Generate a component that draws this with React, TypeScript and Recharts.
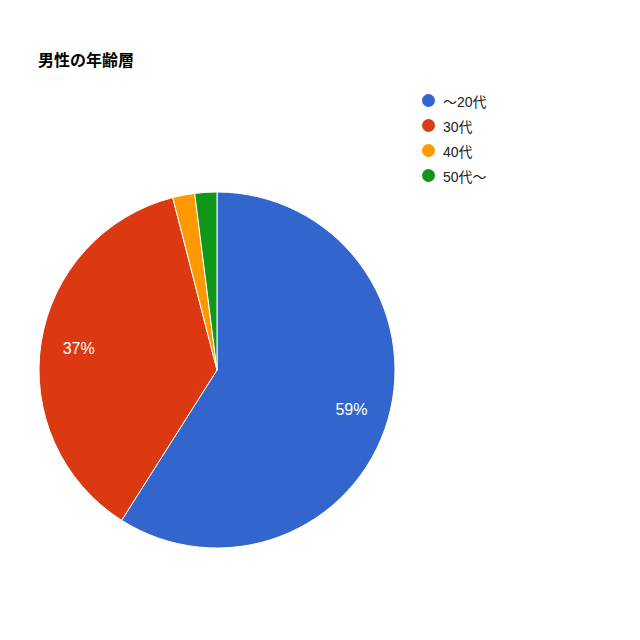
import React from "react";
import { PieChart, Pie, Cell } from "recharts";

const TITLE = "男性の年齢層";
const CATEGORIES = ["～20代", "30代", "40代", "50代～"];
const VALUES = [59, 37, 2, 2];
const COLORS = ["#3366cc", "#dc3912", "#ff9900", "#109618"];
const LABELS = ["59%", "37%", "", ""];

const FONT = '"Liberation Sans", Arial, "Noto Sans CJK JP", sans-serif';
const RAD = Math.PI / 180;

const data = CATEGORIES.map((name, i) => ({ name, value: VALUES[i], label: LABELS[i] }));

function renderLabel(props: any) {
  const { cx, cy, midAngle, index } = props;
  const text = data[index].label;
  if (!text) return null;
  const r = 140;
  const x = cx + r * Math.cos(-midAngle * RAD);
  const y = cy + r * Math.sin(-midAngle * RAD);
  return (
    <text
      x={x}
      y={y}
      fill="#ffffff"
      fontSize={16}
      fontFamily={FONT}
      textAnchor="middle"
      dominantBaseline="central"
    >
      {text}
    </text>
  );
}

// legend drawn beside the chart so it doesn't shift the pie
function LegendBox() {
  return (
    <div
      style={{
        position: "absolute",
        left: 422,
        top: 88,
        fontFamily: FONT,
        fontSize: 14,
        color: "#222",
      }}
    >
      {data.map((d, i) => (
        <div key={d.name} style={{ display: "flex", alignItems: "center", height: 25 }}>
          <span
            style={{
              width: 13,
              height: 13,
              borderRadius: "50%",
              background: COLORS[i],
              display: "inline-block",
              marginRight: 8,
            }}
          />
          <span>{d.name}</span>
        </div>
      ))}
    </div>
  );
}

export default function App() {
  return (
    <div style={{ position: "absolute", left: 0, top: 0, width: 640, height: 640, background: "#fff" }}>
      <PieChart width={640} height={640} margin={{ top: 0, right: 0, bottom: 0, left: 0 }}>
        <Pie
          data={data}
          dataKey="value"
          nameKey="name"
          cx={217}
          cy={370}
          outerRadius={178}
          startAngle={90}
          endAngle={-270}
          stroke="#ffffff"
          strokeWidth={1}
          label={renderLabel}
          labelLine={false}
          isAnimationActive={false}
        >
          {data.map((d, i) => (
            <Cell key={d.name} fill={COLORS[i]} />
          ))}
        </Pie>
      </PieChart>
      <div
        style={{
          position: "absolute",
          left: 38,
          top: 49,
          fontFamily: '"Noto Sans CJK JP", sans-serif',
          fontWeight: "bold",
          fontSize: 16,
          color: "#000",
          lineHeight: "20px",
        }}
      >
        {TITLE}
      </div>
      <LegendBox />
    </div>
  );
}
